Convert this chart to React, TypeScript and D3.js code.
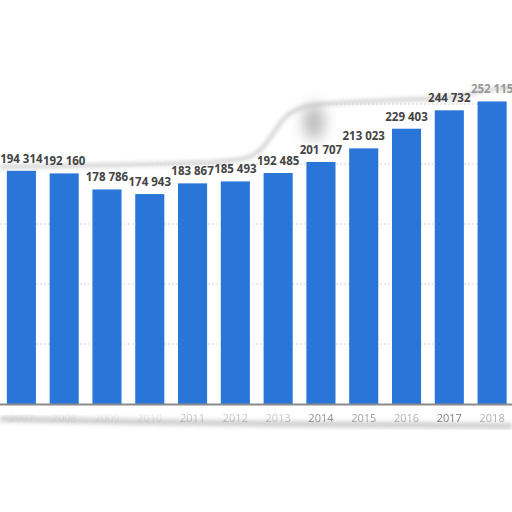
import * as d3 from "d3";
import React from "react";

const years = ["2007", "2008", "2009", "2010", "2011", "2012", "2013", "2014", "2015", "2016", "2017", "2018"];
const values = [194314, 192160, 178786, 174943, 183867, 185493, 192485, 201707, 213023, 229403, 244732, 252115];
const gridTicks = [50000, 100000, 150000, 200000, 250000];
// year labels on the left are almost hidden by the paper shadow
const yearOpacity = [0.08, 0.1, 0.1, 0.15, 0.35, 0.35, 0.35, 0.7, 0.6, 0.5, 0.85, 0.5];

const W = 512;
const H = 512;
const baseY = 404;

const fmt = d3.formatLocale({ decimal: ".", thousands: " ", grouping: [3], currency: ["", ""] }).format(",d");

export default function App() {
  const x = d3.scaleBand<string>().domain(years).range([0, 513.5]).paddingInner(0.32).paddingOuter(0.16);
  const y = d3.scaleLinear().domain([0, 300000]).range([baseY, 44]);

  // torn paper edge along the top
  const edgePts: [number, number][] = [
    [0, 167], [60, 166], [120, 165], [200, 163], [245, 160], [262, 152],
    [282, 118], [300, 105], [350, 102], [420, 99], [465, 97], [478, 90], [512, 88],
  ];
  const edge = d3.line().curve(d3.curveBasis)(edgePts);
  const paper = d3.line().curve(d3.curveBasis)([...edgePts, [512, 430], [0, 430], [0, 167]]);
  const bottomEdge = d3.line().curve(d3.curveBasis)([
    [0, 419], [100, 421], [200, 423], [300, 424], [400, 425], [512, 426],
  ]);

  return (
    <svg width={W} height={H} style={{ position: "absolute", left: 0, top: 0, background: "#fff" }}>
      <defs>
        <filter id="blur" x="-10%" y="-50%" width="120%" height="200%">
          <feGaussianBlur stdDeviation="2.2" />
        </filter>
        <filter id="blurBig" x="-50%" y="-50%" width="200%" height="200%">
          <feGaussianBlur stdDeviation="7" />
        </filter>
        <clipPath id="paper">
          <path d={paper ?? ""} />
        </clipPath>
      </defs>
      <rect width={W} height={H} fill="#fff" />

      {/* paper shadows */}
      <path d={edge ?? ""} fill="none" stroke="#a0a0a0" strokeWidth={2.5} filter="url(#blur)" opacity={0.75} />
      <ellipse cx={314} cy={122} rx={11} ry={18} fill="#bdbdbd" filter="url(#blurBig)" />
      <line x1={2} x2={2} y1={168} y2={412} stroke="#aaa" strokeWidth={3} filter="url(#blur)" />
      <path d={bottomEdge ?? ""} fill="none" stroke="#c2c2c2" strokeWidth={6} filter="url(#blur)" opacity={0.8} />

      <g clipPath="url(#paper)">
        {gridTicks.map((t) => (
          <line key={t} x1={0} x2={W} y1={y(t)} y2={y(t)} stroke="#ccc" strokeDasharray="2,2" strokeWidth={0.8} />
        ))}
      </g>

      {years.map((yr, i) => (
        <rect key={yr} x={x(yr)} y={y(values[i])} width={x.bandwidth()} height={baseY - y(values[i])} fill="#2a76d8" />
      ))}

      <line x1={0} x2={W} y1={baseY + 0.5} y2={baseY + 0.5} stroke="#8a8a8a" strokeWidth={1.8} />

      {years.map((yr, i) => (
        <text
          key={yr}
          x={(x(yr) ?? 0) + x.bandwidth() / 2}
          y={y(values[i]) - 8}
          textAnchor="middle"
          fontFamily="'Open Sans', sans-serif"
          fontWeight={700}
          fontSize={11.5}
          fill={i === 11 ? "#999" : "#444"}
        >
          {fmt(values[i])}
        </text>
      ))}

      {years.map((yr, i) => (
        <text
          key={yr}
          x={(x(yr) ?? 0) + x.bandwidth() / 2}
          y={422}
          textAnchor="middle"
          fontFamily="'Open Sans', sans-serif"
          fontSize={11}
          fill="#666"
          opacity={yearOpacity[i]}
        >
          {yr}
        </text>
      ))}
    </svg>
  );
}
